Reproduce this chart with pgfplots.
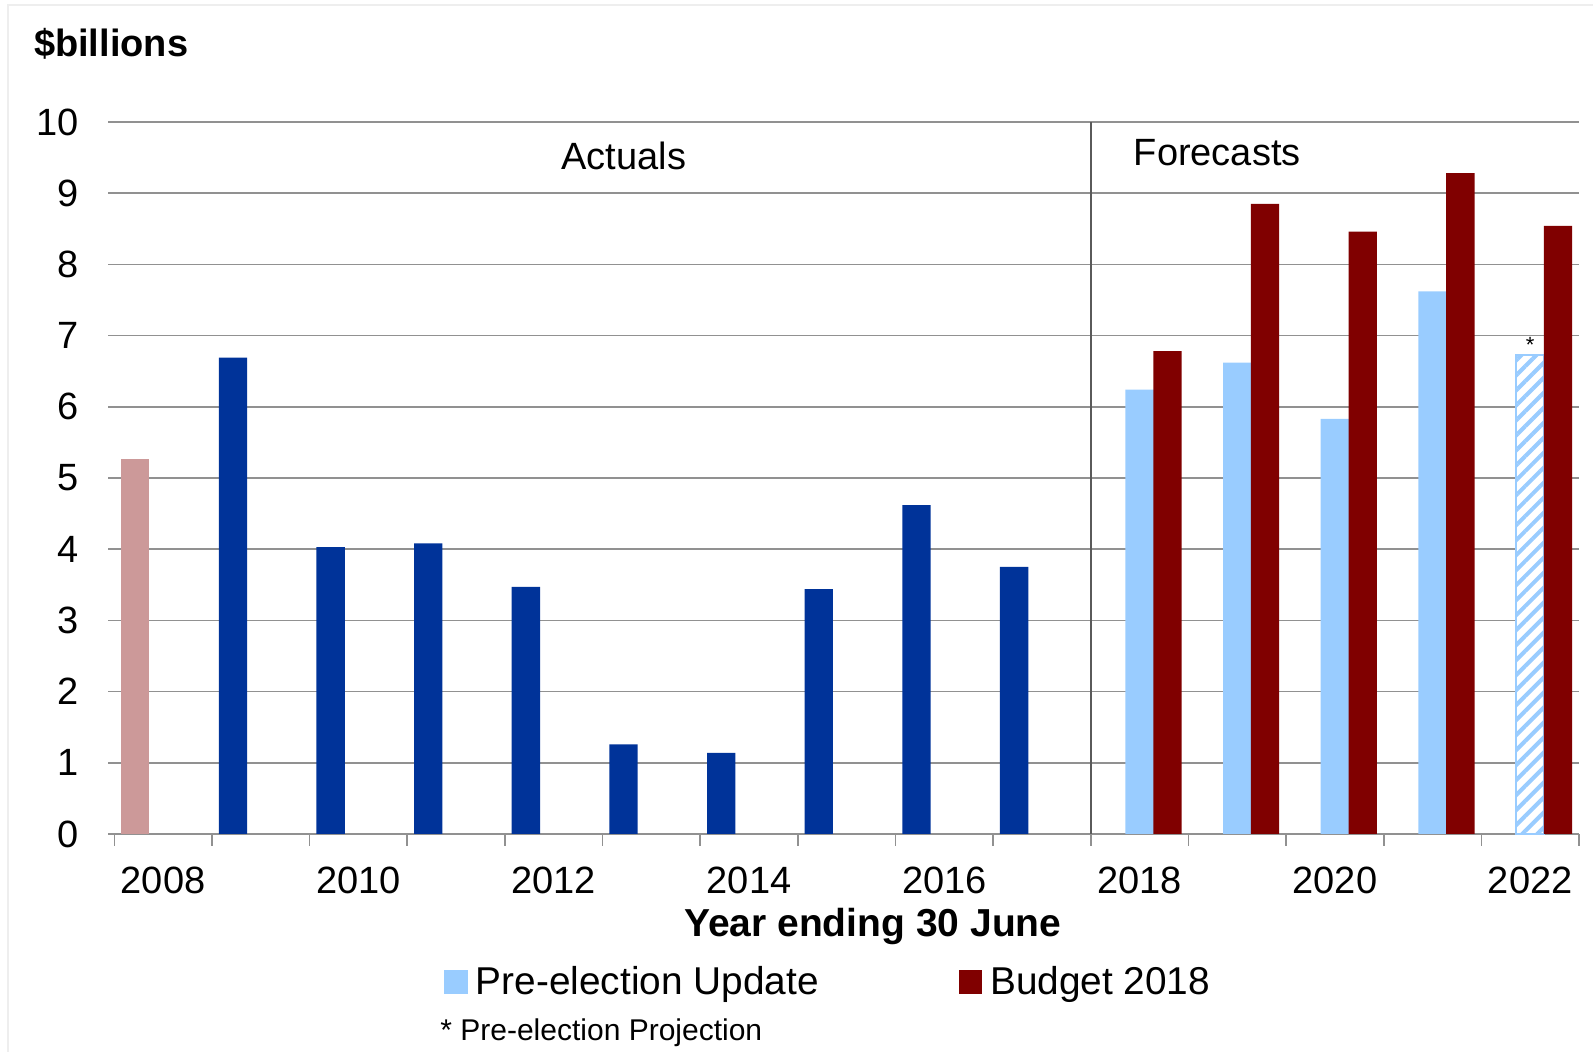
\documentclass[border=0pt]{standalone}
\usepackage{fontspec}
\setmainfont{Liberation Sans}
\usepackage{pgfplots}
\pgfplotsset{compat=1.18}
\usetikzlibrary{patterns.meta}
\definecolor{actblue}{RGB}{0,51,153}
\definecolor{pinkbar}{RGB}{204,153,153}
\definecolor{lightblue}{RGB}{153,204,255}
\definecolor{darkred}{RGB}{128,0,0}
\definecolor{gridgray}{RGB}{145,145,145}
\definecolor{divgray}{RGB}{90,90,90}
\definecolor{framegray}{RGB}{238,238,238}
\newcommand{\bigf}{\fontsize{19}{22}\selectfont}
\newcommand{\legf}{\fontsize{19.4}{22}\selectfont}
\begin{document}
\begin{tikzpicture}
\useasboundingbox (0,0) rectangle (796.5pt,526pt);
\draw[framegray, line width=0.8pt] (4pt,0pt) -- (4pt,523.5pt) -- (796.5pt,523.5pt);
\begin{axis}[
  at={(57.15pt,109pt)}, anchor=south west,
  scale only axis, width=732.35pt, height=356pt,
  xmin=-0.5, xmax=14.5, ymin=0, ymax=10,
  ybar, bar width=0.29,
  axis x line*=bottom, axis y line*=left,
  x axis line style={draw=gridgray, line width=0.8pt},
  y axis line style={draw=none},
  xtick={0,2,...,14},
  xticklabels={2008,2010,2012,2014,2016,2018,2020,2022},
  major x tick style={draw=none},
  minor xtick={-0.5,0.5,...,14.5},
  minor x tick style={draw=gridgray, line width=0.8pt},
  minor tick length=6pt,
  ytick={0,1,...,10},
  major y tick style={draw=gridgray, line width=0.8pt},
  major tick length=3pt,
  tick align=outside,
  ymajorgrids,
  grid style={gridgray, line width=0.8pt},
  /pgf/number format/assume math mode=true,
  tick label style={font=\bigf},
  xticklabel style={anchor=base, yshift=-26.7pt},
  yticklabel style={anchor=east, inner sep=0pt, xshift=-14.5pt},
  legend columns=2,
  legend style={draw=none, fill=none, font=\legf, inner sep=0pt,
    at={(0.2251,-0.2072)}, anchor=west,
    nodes={inner xsep=4pt, inner ysep=0pt},
    /tikz/every even column/.append style={column sep=66pt}},
  legend image code/.code={\fill[#1] (0pt,-6pt) rectangle (11.7pt,6pt);},
  clip=false,
]
% 2008 (pink)
\addplot[fill=pinkbar, draw=none, bar shift=-0.285, forget plot] coordinates {(0,5.26)};
% Actuals
\addplot[fill=actblue, draw=none, bar shift=-0.285, forget plot] coordinates {
  (1,6.69) (2,4.03) (3,4.08) (4,3.47) (5,1.26) (6,1.14) (7,3.44) (8,4.62) (9,3.75)};
% Pre-election Update
\addplot[fill=lightblue, draw=none, bar shift=0] coordinates {
  (10,6.24) (11,6.62) (12,5.83) (13,7.62)};
\addlegendentry{Pre-election Update}
% Pre-election Projection (hatched)
\addplot[draw=lightblue, line width=1pt, fill=white,
  postaction={pattern={Lines[angle=45,distance=5.3pt,line width=2pt]}, pattern color=lightblue},
  bar shift=0, forget plot] coordinates {(14,6.73)};
% Budget 2018
\addplot[fill=darkred, draw=none, bar shift=0.285] coordinates {
  (10,6.78) (11,8.85) (12,8.46) (13,9.28) (14,8.54)};
\addlegendentry{Budget 2018}
\draw[divgray, line width=0.8pt] (axis cs:9.5,0) -- (axis cs:9.5,10);
\node[anchor=south, inner sep=1pt, font=\fontsize{11}{12}\selectfont] at (axis cs:14,6.73) {*};
\end{axis}
\node[anchor=base west, inner sep=0pt, font=\bigf\bfseries] at (16.8pt,497.5pt) {\$billions};
\node[anchor=base, inner sep=0pt, font=\bigf] at (311.9pt,441.2pt) {Actuals};
\node[anchor=base, inner sep=0pt, font=\bigf] at (608.6pt,443.2pt) {Forecasts};
\node[anchor=base, inner sep=0pt, font=\fontsize{19.5}{22}\selectfont\bfseries] at (436.4pt,57.5pt) {Year ending 30 June};
\node[anchor=base west, inner sep=0pt, font=\fontsize{15}{18}\selectfont] at (220pt,5.8pt) {* Pre-election Projection};
\end{tikzpicture}
\end{document}
